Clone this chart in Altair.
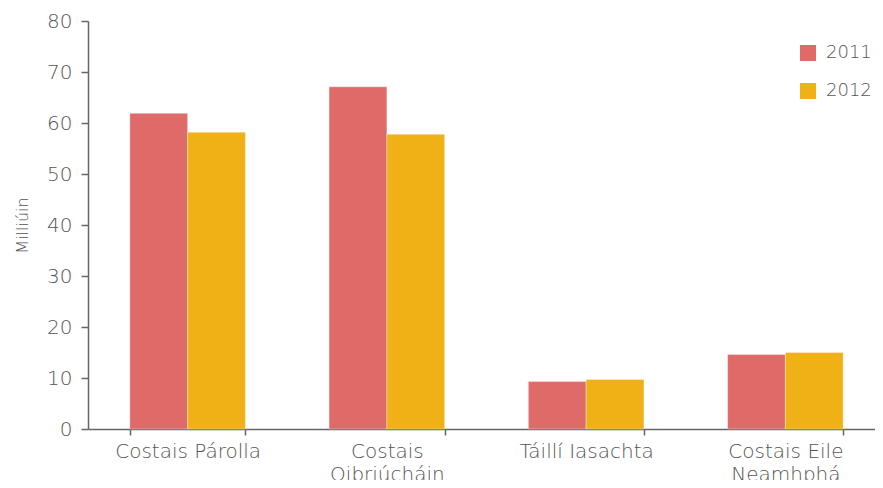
import altair as alt
import pandas as pd

categories = ["Costais Párolla", "Costais|Oibriúcháin", "Táillí Iasachta", "Costais Eile|Neamhphá"]
years = ["2011", "2012"]
values_2011 = [61.9, 67.1, 9.3, 14.6]
values_2012 = [58.2, 57.8, 9.7, 15.0]
colors = ["#DF6B68", "#EFB116"]

rows = []
for c, a, b in zip(categories, values_2011, values_2012):
    rows.append({"cat": c, "year": "2011", "value": a})
    rows.append({"cat": c, "year": "2012", "value": b})
df = pd.DataFrame(rows)

FONT = "DejaVu Sans"
W = 200
TXT = "#555555"
AX = "#666666"

chart = alt.Chart(df).mark_bar(stroke="white", strokeOpacity=0.35, strokeWidth=1).encode(
    x=alt.X("cat:N", sort=categories, title=None,
            scale=alt.Scale(paddingInner=0.42, paddingOuter=0.21, range=[0, 797]),
            axis=alt.Axis(labelAngle=0, tickBand="extent", labelExpr="split(datum.label, '|')",
                          labelFontSize=20, labelColor=TXT, labelFont=FONT, labelFontWeight=W,
                          labelPadding=6, labelLineHeight=23,
                          domainColor=AX, tickColor=AX, tickSize=6,
                          domainWidth=1.5, tickWidth=1.5)),
    xOffset=alt.XOffset("year:N", sort=years),
    y=alt.Y("value:Q", title="Milliúin",
            scale=alt.Scale(domain=[0, 80], nice=False),
            axis=alt.Axis(values=[0, 10, 20, 30, 40, 50, 60, 70, 80], grid=False,
                          labelFontSize=20, labelColor=TXT, labelFont=FONT, labelFontWeight=W,
                          labelPadding=9, tickSize=7, domainColor=AX, tickColor=AX,
                          domainWidth=1.5, tickWidth=1.5,
                          titleFontSize=16, titleFont=FONT, titleFontWeight=W, titleColor=TXT,
                          titlePadding=16)),
    color=alt.Color("year:N", sort=years, scale=alt.Scale(domain=years, range=colors),
                    legend=alt.Legend(title=None, orient="none", legendX=711, legendY=23,
                                      symbolType="square", symbolSize=256, symbolStrokeWidth=0,
                                      labelFontSize=18, labelColor=TXT, labelFont=FONT,
                                      labelFontWeight=W, rowPadding=20, labelOffset=9)),
).properties(
    width=787, height=408,
    autosize=alt.AutoSizeParams(type="none"),
    padding={"left": 80, "top": 13, "right": 0, "bottom": 51},
).configure_view(stroke=None)

chart.save("out.html", embed_options={"renderer": "svg", "actions": False})
